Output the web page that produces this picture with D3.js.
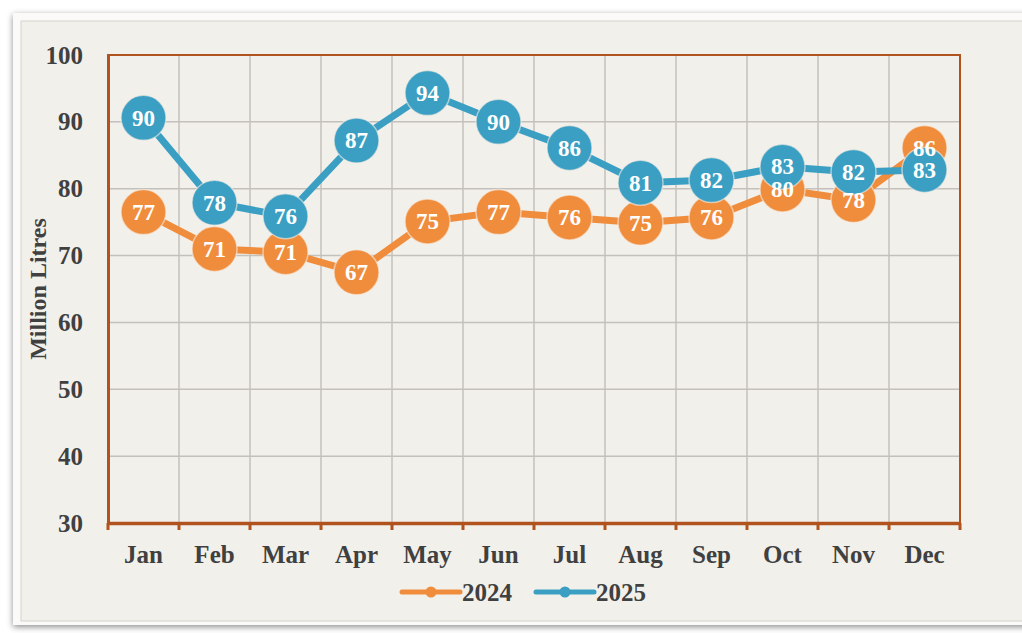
<!DOCTYPE html>
<html>
<head>
<meta charset="utf-8">
<script src="https://cdn.jsdelivr.net/npm/d3@7"></script>
<style>
  body { margin: 0; background: #ffffff; }
  svg { display: block; }
</style>
</head>
<body>
<div id="chart"></div>
<script>
// chart data
const months = ["Jan", "Feb", "Mar", "Apr", "May", "Jun", "Jul", "Aug", "Sep", "Oct", "Nov", "Dec"];
const series = ["2024", "2025"];
const values2024 = [76.5, 71.0, 70.5, 67.5, 75.1, 76.5, 75.7, 74.9, 75.7, 79.9, 78.3, 86.1];
const values2025 = [90.6, 77.9, 75.9, 87.2, 94.3, 90.0, 86.1, 80.9, 81.3, 83.3, 82.5, 82.8];
const labels2024 = [77, 71, 71, 67, 75, 77, 76, 75, 76, 80, 78, 86];
const labels2025 = [90, 78, 76, 87, 94, 90, 86, 81, 82, 83, 82, 83];
const yTicks = [30, 40, 50, 60, 70, 80, 90, 100];

const colors = ["#f08d3c", "#3a9fc2"];
const axisCol = "#b0531e";
const textCol = "#404040";
const font = "'Liberation Serif', 'Times New Roman', serif";

let width = 1022,
    height = 633;

let svg = d3.select("#chart")
  .append("svg")
    .attr("width", width)
    .attr("height", height);

let defs = svg.append("defs");
let shadow = defs.append("filter").attr("id", "shadow")
  .attr("x", "-5%").attr("y", "-5%").attr("width", "110%").attr("height", "110%");
shadow.append("feDropShadow")
  .attr("dx", 0).attr("dy", 2).attr("stdDeviation", 3)
  .attr("flood-color", "#000").attr("flood-opacity", 0.45);

// panel with a little bevel
svg.append("rect")
  .attr("x", 13).attr("y", 13).attr("width", 1020).attr("height", 612)
  .attr("fill", "#fbfaf8")
  .attr("filter", "url(#shadow)");
svg.append("rect")
  .attr("x", 21).attr("y", 21).attr("width", 1010).attr("height", 600)
  .attr("fill", "#f2f0eb")
  .attr("stroke", "#d6d2cc")
  .attr("stroke-width", 1);

let margin = {left: 108, right: 62, top: 55, bottom: 110};

let x = d3.scaleBand()
  .domain(months)
  .range([margin.left, width - margin.right]);

let y = d3.scaleLinear()
  .domain([30, 100])
  .range([height - margin.bottom, margin.top]);

// gridlines
let grid = svg.append("g");
grid.selectAll(".hgrid")
  .data(yTicks.slice(1))
  .enter()
  .append("line")
    .attr("x1", margin.left).attr("x2", width - margin.right)
    .attr("y1", d => y(d)).attr("y2", d => y(d))
    .attr("stroke", "#c4c0bb")
    .attr("stroke-width", 1.5);
grid.selectAll(".vgrid")
  .data(months.slice(1))
  .enter()
  .append("line")
    .attr("x1", d => x(d)).attr("x2", d => x(d))
    .attr("y1", y(100)).attr("y2", y(30))
    .attr("stroke", "#c4c0bb")
    .attr("stroke-width", 1.5);

// plot border
svg.append("rect")
  .attr("x", margin.left).attr("y", y(100))
  .attr("width", x.range()[1] - margin.left)
  .attr("height", y(30) - y(100))
  .attr("fill", "none")
  .attr("stroke", axisCol)
  .attr("stroke-width", 2);

// x axis
let xAxis = svg.append("g")
  .attr("transform", "translate(0," + y(30) + ")")
  .call(d3.axisBottom(x).tickSize(0).tickPadding(22));
xAxis.select(".domain")
  .attr("stroke", axisCol)
  .attr("stroke-width", 3.5);
xAxis.selectAll("text")
  .attr("font-family", font)
  .attr("font-weight", "bold")
  .attr("font-size", "25px")
  .attr("fill", textCol);
xAxis.selectAll(".boundary")
  .data(months.concat(["end"]))
  .enter()
  .append("line")
    .attr("x1", (d, i) => i < months.length ? x(d) : x.range()[1])
    .attr("x2", (d, i) => i < months.length ? x(d) : x.range()[1])
    .attr("y1", 0).attr("y2", 7)
    .attr("stroke", axisCol)
    .attr("stroke-width", 3);

// y axis
let yAxis = svg.append("g")
  .attr("transform", "translate(" + margin.left + ",0)")
  .call(d3.axisLeft(y).tickValues(yTicks).tickSize(0).tickPadding(25));
yAxis.select(".domain")
  .attr("stroke", axisCol)
  .attr("stroke-width", 3);
yAxis.selectAll("text")
  .attr("font-family", font)
  .attr("font-weight", "bold")
  .attr("font-size", "25px")
  .attr("fill", textCol);

svg.append("text")
  .attr("transform", "translate(46," + (y(65)) + ") rotate(-90)")
  .attr("text-anchor", "middle")
  .attr("font-family", font)
  .attr("font-weight", "bold")
  .attr("font-size", "24px")
  .attr("fill", textCol)
  .text("Million Litres");

// lines and markers
let allValues = [values2024, values2025];
let allLabels = [labels2024, labels2025];
let line = d3.line()
  .x((d, i) => x(months[i]) + x.bandwidth() / 2)
  .y(d => y(d));

allValues.forEach(function(vals, s) {
  svg.append("path")
    .datum(vals)
    .attr("d", line)
    .attr("fill", "none")
    .attr("stroke", colors[s])
    .attr("stroke-width", 7)
    .attr("stroke-linejoin", "round");

  svg.selectAll(".dot" + s)
    .data(vals)
    .enter()
    .append("circle")
      .attr("cx", (d, i) => x(months[i]) + x.bandwidth() / 2)
      .attr("cy", d => y(d))
      .attr("r", 22.5)
      .attr("fill", colors[s])
      .attr("stroke", "#f6efe6")
      .attr("stroke-opacity", 0.6)
      .attr("stroke-width", 1.5);
});

allValues.forEach(function(vals, s) {
  svg.selectAll(".lab" + s)
    .data(vals)
    .enter()
    .append("text")
      .attr("x", (d, i) => x(months[i]) + x.bandwidth() / 2)
      .attr("y", d => y(d))
      .attr("dy", "0.34em")
      .attr("text-anchor", "middle")
      .attr("font-family", font)
      .attr("font-weight", "bold")
      .attr("font-size", "23px")
      .attr("fill", "#ffffff")
      .text((d, i) => allLabels[s][i]);
});

// legend
let legend = svg.append("g");
let legX = [402, 536];
series.forEach(function(name, s) {
  let g = legend.append("g").attr("transform", "translate(" + legX[s] + ",592)");
  g.append("line")
    .attr("x1", 0).attr("x2", 58)
    .attr("stroke", colors[s])
    .attr("stroke-width", 5)
    .attr("stroke-linecap", "round");
  g.append("circle")
    .attr("cx", 29).attr("r", 5.5)
    .attr("fill", colors[s]);
  g.append("text")
    .attr("x", 60).attr("dy", "0.35em")
    .attr("font-family", font)
    .attr("font-weight", "bold")
    .attr("font-size", "25px")
    .attr("fill", textCol)
    .text(name);
});
</script>
</body>
</html>
